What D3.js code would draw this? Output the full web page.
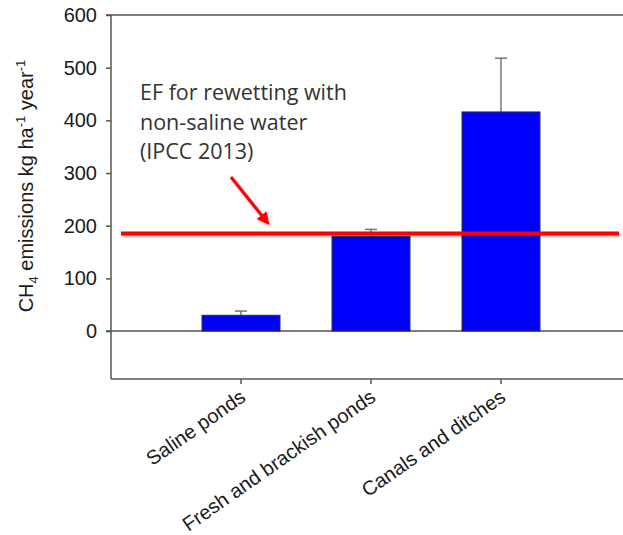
<!DOCTYPE html>
<html>
<head>
<meta charset="utf-8">
<script src="https://cdn.jsdelivr.net/npm/d3@7"></script>
<style>
  html, body { margin: 0; padding: 0; background: #fff; }
  svg { display: block; }
</style>
</head>
<body>
<svg id="chart" width="623" height="535"></svg>
<script>
// ---- data ----
const categories = ["Saline ponds", "Fresh and brackish ponds", "Canals and ditches"];
const means = [30, 180, 416];
const errorTops = [38, 193, 518];
const yTicks = [0, 100, 200, 300, 400, 500, 600];
const efValue = 185;
const annotationLines = ["EF for rewetting with", "non-saline water", "(IPCC 2013)"];

(function () {
// ---- layout ----
const W = 623, H = 535;
const mLeft = 111, mTop = 15, mBottom = 379, mRight = 631;

const svg = d3.select("#chart");

const y = d3.scaleLinear().domain([-91, 600]).range([mBottom, mTop]);
const x = d3.scaleBand().domain(categories).range([mLeft, mRight])
  .paddingInner(0.4).paddingOuter(0.7);

const axisColor = "#555";

// frame: top and bottom lines
svg.append("line").attr("x1", mLeft - 5).attr("x2", W).attr("y1", mTop).attr("y2", mTop)
  .attr("stroke", axisColor).attr("stroke-width", 1.5);
svg.append("line").attr("x1", mLeft).attr("x2", W).attr("y1", mBottom).attr("y2", mBottom)
  .attr("stroke", axisColor).attr("stroke-width", 1.5);

// zero line
svg.append("line").attr("x1", mLeft - 5).attr("x2", W).attr("y1", y(0)).attr("y2", y(0))
  .attr("stroke", axisColor).attr("stroke-width", 1.5);

// y axis
const yAxis = svg.append("g").attr("transform", `translate(${mLeft},0)`)
  .call(d3.axisLeft(y).tickValues(yTicks).tickSize(5).tickSizeOuter(0).tickPadding(9));
yAxis.select(".domain").attr("stroke", axisColor).attr("stroke-width", 1.5)
  .attr("d", `M0,${mTop}V${mBottom}`);
yAxis.selectAll(".tick line").attr("stroke", axisColor).attr("stroke-width", 1.5);
yAxis.selectAll(".tick text").attr("font-family", "Liberation Sans, Arial, sans-serif")
  .attr("font-size", 20).attr("fill", "#1a1a1a");

// x axis ticks
const xAxis = svg.append("g").attr("transform", `translate(0,${mBottom})`)
  .call(d3.axisBottom(x).tickSize(5).tickSizeOuter(0).tickFormat(""));
xAxis.select(".domain").remove();
xAxis.selectAll(".tick line").attr("stroke", axisColor).attr("stroke-width", 1.5);

// category labels
svg.append("g").selectAll("text").data(categories).join("text")
  .attr("transform", d => `translate(${x(d) + x.bandwidth() / 2 + 6},${mBottom + 21}) rotate(-35)`)
  .attr("text-anchor", "end")
  .attr("font-family", "Liberation Sans, Arial, sans-serif")
  .attr("font-size", 20).attr("fill", "#1a1a1a")
  .text(d => d);

// error bars
const eb = svg.append("g");
categories.forEach((c, i) => {
  const cx = x(c) + x.bandwidth() / 2;
  eb.append("line").attr("x1", cx).attr("x2", cx).attr("y1", y(means[i])).attr("y2", y(errorTops[i]))
    .attr("stroke", "#777").attr("stroke-width", 1.5);
  eb.append("line").attr("x1", cx - 6).attr("x2", cx + 6).attr("y1", y(errorTops[i])).attr("y2", y(errorTops[i]))
    .attr("stroke", "#777").attr("stroke-width", 1.5);
});

// bars
svg.append("g").selectAll("rect").data(categories).join("rect")
  .attr("x", d => x(d))
  .attr("width", x.bandwidth())
  .attr("y", (d, i) => y(means[i]))
  .attr("height", (d, i) => y(0) - y(means[i]))
  .attr("fill", "#0000ff")
  .attr("stroke", "#333").attr("stroke-width", 1);

// red EF line with shadow
const defs = svg.append("defs");
const f = defs.append("filter").attr("id", "sh").attr("filterUnits", "userSpaceOnUse")
  .attr("x", 0).attr("y", 0).attr("width", W).attr("height", H);
f.append("feDropShadow").attr("dx", 1).attr("dy", 1.5).attr("stdDeviation", 1)
  .attr("flood-color", "#000").attr("flood-opacity", 0.3);

defs.append("marker").attr("id", "ah").attr("viewBox", "0 0 10 10").attr("refX", 7).attr("refY", 5)
  .attr("markerWidth", 4.2).attr("markerHeight", 4.2).attr("orient", "auto")
  .append("path").attr("d", "M0,0L10,5L0,10Z").attr("fill", "#ff0000");

svg.append("line").attr("x1", 121).attr("x2", 619).attr("y1", y(efValue)).attr("y2", y(efValue))
  .attr("stroke", "#ff0000").attr("stroke-width", 4).attr("filter", "url(#sh)");

// arrow
svg.append("line").attr("x1", 231).attr("y1", 177).attr("x2", 267).attr("y2", 222)
  .attr("stroke", "#ff0000").attr("stroke-width", 3).attr("marker-end", "url(#ah)")
  .attr("filter", "url(#sh)");

// annotation text
svg.append("g").selectAll("text").data(annotationLines).join("text")
  .attr("x", 140).attr("y", (d, i) => 100 + i * 29.5)
  .attr("font-family", "Open Sans, sans-serif")
  .attr("font-size", 21.5).attr("fill", "#333")
  .text(d => d);

// y label
const yl = svg.append("text")
  .attr("transform", `translate(33,186) rotate(-90)`)
  .attr("text-anchor", "middle")
  .attr("font-family", "Liberation Sans, Arial, sans-serif")
  .attr("font-size", 20).attr("fill", "#1a1a1a");
yl.append("tspan").text("CH");
yl.append("tspan").attr("font-size", 13).attr("dy", 5).text("4");
yl.append("tspan").attr("dy", -5).text(" emissions kg ha");
yl.append("tspan").attr("font-size", 13).attr("dy", -8).text("-1");
yl.append("tspan").attr("dy", 8).text("  year");
yl.append("tspan").attr("font-size", 13).attr("dy", -8).text("-1");
})();
</script>
</body>
</html>
